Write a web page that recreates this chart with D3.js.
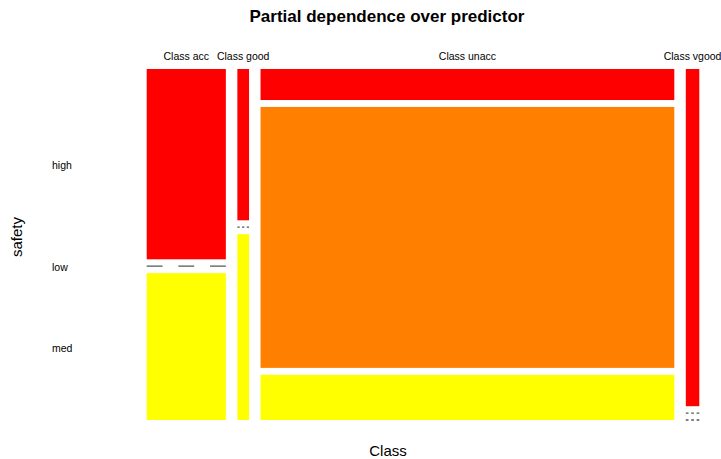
<!DOCTYPE html>
<html>
<head>
<meta charset="utf-8">
<script src="https://cdn.jsdelivr.net/npm/d3@7"></script>
<style>
  body { margin: 0; background: #fff; }
  text { font-family: "Liberation Sans", Arial, sans-serif; fill: #000; }
</style>
</head>
<body>
<svg width="721" height="459"></svg>
<script>
// mosaic data: predicted class x safety
var classes = ["acc", "good", "unacc", "vgood"];
var safetyLevels = ["high", "low", "med"];
var highCounts = [149, 17.5, 127, 45];
var lowCounts  = [0, 0, 1068, 0];
var medCounts  = [115, 21.5, 185, 0];
var safetyColors = ["#FF0000", "#FF8000", "#FFFF00"];

var counts = [highCounts, lowCounts, medCounts];

var svg = d3.select("svg"),
    plotLeft = 146.7, plotRight = 699.3, plotTop = 69, plotBottom = 420,
    gapX = 11.5, gapY = 6.9;

var colTotals = classes.map(function(c, i) {
    return d3.sum(counts, function(row) { return row[i]; });
});
var total = d3.sum(colTotals);

var x = d3.scaleLinear()
    .domain([0, total])
    .range([0, (plotRight - plotLeft) - gapX * (classes.length - 1)]);

var color = d3.scaleOrdinal()
    .domain(safetyLevels)
    .range(safetyColors);

var g = svg.append("g");
var cum = 0;

classes.forEach(function(cls, i) {
    var x0 = plotLeft + x(cum) + i * gapX,
        w = x(colTotals[i]);
    cum += colTotals[i];

    var y = d3.scaleLinear()
        .domain([0, colTotals[i]])
        .range([0, (plotBottom - plotTop) - gapY * (safetyLevels.length - 1)]);

    var ycum = 0;
    safetyLevels.forEach(function(s, j) {
        var v = counts[j][i],
            y0 = plotTop + y(ycum) + j * gapY,
            h = y(v);
        ycum += v;
        if (v > 0) {
            g.append("rect")
                .attr("x", x0)
                .attr("y", y0)
                .attr("width", w)
                .attr("height", h)
                .attr("fill", color(s));
        } else {
            // empty cell -> dashed line
            g.append("line")
                .attr("x1", x0)
                .attr("x2", x0 + w)
                .attr("y1", y0)
                .attr("y2", y0)
                .attr("stroke", "#555")
                .attr("stroke-width", 1.3)
                .attr("stroke-dasharray", (w / 5) + "," + (w / 5));
        }
    });

    svg.append("text")
        .attr("x", x0 + w / 2)
        .attr("y", 60)
        .attr("text-anchor", "middle")
        .style("font-size", "10.5px")
        .text("Class " + cls);

    // row labels from first column
    if (i === 0) {
        var yc = 0;
        safetyLevels.forEach(function(s, j) {
            var v = counts[j][i];
            var mid = plotTop + y(yc) + j * gapY + y(v) / 2;
            yc += v;
            svg.append("text")
                .attr("x", 52)
                .attr("y", mid + 5)
                .style("font-size", "10.5px")
                .text(s);
        });
    }
});

svg.append("text")
    .attr("x", 387)
    .attr("y", 22)
    .attr("text-anchor", "middle")
    .style("font-size", "17px")
    .style("font-weight", "bold")
    .text("Partial dependence over predictor");

svg.append("text")
    .attr("x", 388)
    .attr("y", 456)
    .attr("text-anchor", "middle")
    .style("font-size", "15px")
    .text("Class");

svg.append("text")
    .attr("transform", "translate(22,237) rotate(-90)")
    .attr("text-anchor", "middle")
    .style("font-size", "15px")
    .text("safety");
</script>
</body>
</html>
